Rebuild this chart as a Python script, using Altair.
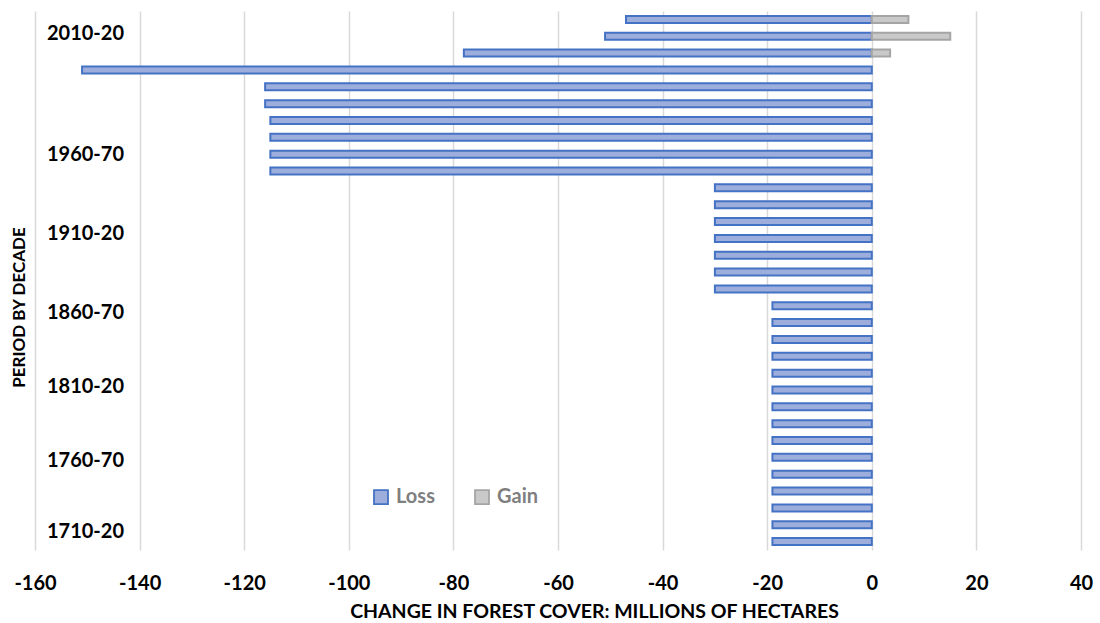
import altair as alt
import pandas as pd

# Decades, top row first (2010-20 down to 1700-10)
decade_starts = list(range(2010, 1690, -10))
decade_labels = [f"{s}-{str(s + 10)[-2:]}" for s in decade_starts]

loss_values = [-47, -51, -78, -151, -116, -116, -115, -115, -115, -115,
               -30, -30, -30, -30, -30, -30, -30,
               -19, -19, -19, -19, -19, -19, -19, -19, -19, -19, -19, -19, -19, -19, -19]
gain_values = [7, 15, 3.5] + [0] * 29

# Axis labels as shown on the reference (row units from top of plot)
axis_labels = ["2010-20", "1960-70", "1910-20", "1860-70", "1810-20", "1760-70", "1710-20"]
axis_label_rows = [1.33, 8.51, 13.2, 17.9, 22.3, 26.7, 30.9]

x_ticks = list(range(-160, 41, 20))

rows = []
for i, (lab, lv, gv) in enumerate(zip(decade_labels, loss_values, gain_values)):
    rows.append({"decade": lab, "row": i + 0.5, "series": "Loss", "value": lv})
    if gv != 0:
        rows.append({"decade": lab, "row": i + 0.5, "series": "Gain", "value": gv})
df = pd.DataFrame(rows)

label_expr = " : ".join(
    f"datum.value == {p} ? '{l}'" for p, l in zip(axis_label_rows, axis_labels)
) + " : ''"

FONT = "Lato"
series_domain = ["Loss", "Gain"]
fill_range = ["#9DAEDC", "#C9C9C9"]
stroke_range = ["#4472C4", "#A5A5A5"]

legend_cfg = alt.Legend(
    title=None, orient="none", legendX=336, legendY=476, direction="horizontal",
    symbolType="square", symbolSize=196, symbolStrokeWidth=1.8,
    labelFont=FONT, labelFontWeight="bold", labelFontSize=20, labelColor="#7F7F7F",
    labelOffset=5, columnPadding=36,
)

chart = alt.Chart(df).mark_bar(orient="horizontal", size=7, strokeWidth=2).encode(
    x=alt.X("value:Q",
            scale=alt.Scale(domain=[-160, 40], nice=False, zero=False, padding=0),
            axis=alt.Axis(values=x_ticks, labelExpr="toString(datum.value)",
                          labelFlush=False, labelOverlap=False,
                          grid=True, gridColor="#D9D9D9", gridWidth=1.5,
                          domain=False, ticks=False, labelFont=FONT, labelFontWeight="bold",
                          labelFontSize=20, labelColor="#000000", labelPadding=23,
                          title="CHANGE IN FOREST COVER: MILLIONS OF HECTARES",
                          titleFont=FONT, titleFontWeight="bold", titleFontSize=19.5,
                          titleColor="#000000", titleX=559, titleY=52,
                          titleAlign="center", titleBaseline="top")),
    x2=alt.datum(0),
    y=alt.Y("row:Q",
            scale=alt.Scale(domain=[0, 32], nice=False, zero=False, reverse=True, padding=0),
            axis=alt.Axis(values=axis_label_rows, labelExpr=label_expr, grid=False,
                          domain=False, ticks=False, labelFont=FONT, labelFontWeight="bold",
                          labelFontSize=20, labelColor="#000000", labelAlign="center",
                          labelBaseline="middle", labelPadding=-50,
                          title="PERIOD BY DECADE", titleFont=FONT, titleFontWeight="bold",
                          titleFontSize=17, titleColor="#000000", titleAngle=270,
                          titleX=-16, titleY=296, titleAlign="center",
                          titleBaseline="middle")),
    color=alt.Color("series:N", scale=alt.Scale(domain=series_domain, range=fill_range),
                    legend=legend_cfg),
    stroke=alt.Stroke("series:N", scale=alt.Scale(domain=series_domain, range=stroke_range),
                      legend=legend_cfg),
    tooltip=["decade:N", "series:N", "value:Q"],
).properties(
    width=1046,
    height=539,
    autosize=alt.AutoSizeParams(type="none"),
    padding={"left": 35, "top": 11, "right": 19, "bottom": 73},
    background="#FFFFFF",
).configure_view(stroke=None)

chart.save("out.html", embed_options={"renderer": "svg", "actions": False})
